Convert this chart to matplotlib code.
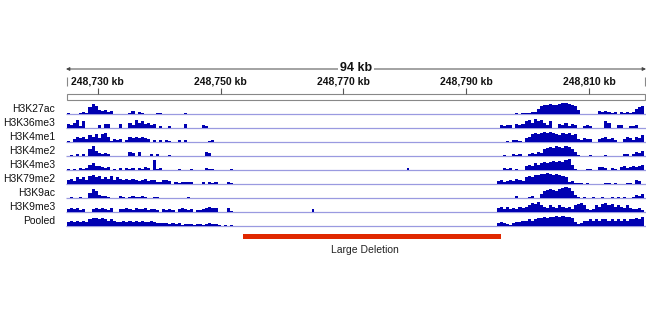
import matplotlib
matplotlib.use("Agg")
import matplotlib.pyplot as plt
from matplotlib.patches import Rectangle
import numpy as np

plt.rcParams['font.family'] = ['Liberation Sans', 'DejaVu Sans']

# genomic window (kb)
VIEW_START = 248724.84
VIEW_END = 248819.28
TICKS_KB = [248730, 248750, 248770, 248790, 248810]
TICK_LABELS = ["248,730 kb", "248,750 kb", "248,770 kb", "248,790 kb", "248,810 kb"]
SPAN_LABEL = "94 kb"

TRACKS = ["H3K27ac", "H3K36me3", "H3K4me1", "H3K4me2", "H3K4me3",
          "H3K79me2", "H3K9ac", "H3K9me3", "Pooled"]

# coverage in 0.5 kb bins, left flank starts at 248,725 kb, right flank at 248,795 kb
BIN_KB = 0.5
LEFT_START = 248725.0
RIGHT_START = 248795.0

left_h3k27ac = [1,0,0,0,1,2,1,6,9,7, 4,3,4,2,3,0,0,0,0,0, 1,3,0,2,1,0,0,0,0,1,
                1,0,0,0,0,0,0,0,1,0, 0,0,0,0,0,0,0,0,0,0, 0,0,0,0,0,0]
left_h3k36me3 = [4,3,5,7,2,6,0,0,0,0, 3,0,4,4,0,0,0,4,0,0, 5,3,7,5,6,4,5,3,4,0,
                 2,0,0,2,0,0,0,0,4,0, 0,0,0,0,3,2,0,0,0,0, 0,0,0,0,0,0]
left_h3k4me1 = [1,0,3,5,4,5,3,6,5,7, 4,7,8,5,1,3,2,3,0,2, 5,4,5,4,5,4,3,0,2,0,
                2,0,2,1,0,0,2,0,2,0, 0,0,0,0,0,0,1,2,0,0, 0,0,0,0,0,0]
left_h3k4me2 = [0,1,0,2,0,2,0,6,9,5, 3,2,3,2,0,0,0,0,0,0, 4,3,0,4,0,0,0,2,0,2,
                0,0,0,1,0,0,0,0,0,0, 0,0,0,0,0,4,3,0,0,0, 0,0,0,0,0,0]
left_h3k4me3 = [1,0,1,0,2,1,2,5,6,4, 4,3,2,3,0,1,0,2,0,2, 1,2,0,2,1,3,2,0,9,1,
                2,0,0,0,0,0,1,0,0,0, 1,0,0,0,0,2,1,1,0,0, 0,0,0,1,0,0]
left_h3k79me2 = [4,5,3,6,5,6,4,7,8,6, 7,5,6,5,7,4,6,5,4,5, 4,5,4,3,4,5,3,4,4,2,
                 2,4,4,3,0,2,1,2,2,2, 2,0,0,0,2,0,2,1,2,0, 0,0,2,1,0,0]
left_h3k9ac = [0,1,0,0,1,0,0,5,8,6, 3,2,2,1,0,0,0,2,1,0, 1,2,1,1,2,1,0,0,1,1,
               0,0,0,0,0,0,0,0,0,1, 0,0,0,0,0,0,0,0,0,0, 0,0,0,0,0,0]
left_h3k9me3 = [3,4,3,4,2,3,0,0,3,4, 3,4,3,2,4,0,0,3,3,4, 3,2,4,3,3,4,2,3,3,2,
                0,3,2,3,2,0,3,4,3,2, 3,0,2,2,3,4,5,4,4,0, 0,0,4,1,0,0]
left_pooled = [4,5,4,5,4,5,4,6,7,7, 6,7,6,5,6,5,4,4,5,4, 5,4,5,4,5,4,4,5,4,3,
               3,3,3,2,3,2,3,1,2,2, 2,1,2,2,1,2,3,2,2,1, 0,1,0,1,0,0]

right_h3k27ac = [0,0,0,0,0,0,1,0,1,1, 1,2,2,5,7,8,8,9,8,8, 9,10,10,9,8,7,4,0,0,0,
                 0,0,0,3,2,3,2,1,2,0, 2,1,2,1,2,5,6,7]
right_h3k36me3 = [0,3,2,3,3,0,4,3,4,6, 7,5,8,6,7,5,3,6,0,0, 4,3,5,2,4,3,0,0,2,3,
                  2,0,0,0,0,6,5,0,0,3, 3,0,0,2,2,3,0,0]
right_h3k4me1 = [0,0,0,1,0,2,2,1,0,4, 5,7,8,7,8,9,8,9,8,7, 6,8,7,8,6,7,3,2,4,3,
                 3,0,0,3,4,5,3,4,2,0, 0,3,5,4,2,5,4,6]
right_h3k4me2 = [0,0,1,0,0,2,1,2,0,0, 2,3,2,4,3,6,7,8,7,9, 8,7,9,8,6,4,1,0,0,0,
                 1,0,0,0,0,1,0,0,0,0, 0,2,2,0,2,4,3,5]
right_h3k4me3 = [0,0,2,1,2,0,1,0,0,4, 5,4,6,5,6,7,6,7,8,7, 8,7,9,10,5,1,0,0,0,1,
                 1,0,0,3,3,2,0,2,1,0, 3,4,2,3,4,3,4,5]
right_h3k79me2 = [3,4,2,3,4,3,5,4,3,6, 7,6,8,8,9,9,10,9,8,9, 8,7,6,2,3,1,1,1,0,1,
                  0,0,0,0,0,1,1,0,1,0, 0,0,1,1,0,4,3,0]
right_h3k9ac = [0,0,0,0,0,0,2,0,0,0, 1,2,0,0,4,6,7,8,7,6, 8,9,10,9,6,3,1,0,1,0,
                0,1,0,0,1,0,0,1,0,1, 0,1,0,0,1,3,2,4]
right_h3k9me3 = [4,5,3,5,3,4,3,5,4,5, 6,8,7,9,6,5,4,6,5,4, 6,5,4,5,3,6,7,8,6,3,
                 2,3,6,5,7,8,6,7,5,6, 5,4,6,4,3,3,4,2]
right_pooled = [3,4,3,2,1,3,4,4,5,5, 6,5,6,7,7,8,7,8,8,9, 8,9,8,8,7,4,2,3,5,5,
                6,5,6,5,6,6,5,6,5,6, 5,6,5,6,6,7,6,8]

LEFT = [left_h3k27ac, left_h3k36me3, left_h3k4me1, left_h3k4me2, left_h3k4me3,
        left_h3k79me2, left_h3k9ac, left_h3k9me3, left_pooled]
RIGHT = [right_h3k27ac, right_h3k36me3, right_h3k4me1, right_h3k4me2, right_h3k4me3,
         right_h3k79me2, right_h3k9ac, right_h3k9me3, right_pooled]

# lone reads inside the deleted region: track -> (kb, height)
LONE_PEAKS = {"H3K4me3": [(248780.5, 2)], "H3K9me3": [(248765.0, 3)]}

DELETION = (248753.7, 248795.7)
DELETION_LABEL = "Large Deletion"

BLUE = "#0000B2"
LINE_BLUE = "#9A9AE0"
RED = "#E02800"

fig = plt.figure(figsize=(6.5, 3.2), dpi=100)
# axes spans x 66..646 px, y 40..262 px; y data is minus pixel row
ax = fig.add_axes([66/650, 1 - 262/320, 580/650, 222/320])
ax.set_xlim(VIEW_START, VIEW_END)
ax.set_ylim(-262, -40)
ax.axis("off")

scale = 1.1  # px per unit of coverage
for i, name in enumerate(TRACKS):
    base = -(114 + 14 * i)
    ax.hlines(base, VIEW_START, VIEW_END, color=LINE_BLUE, lw=0.9, zorder=1)
    left = np.array(LEFT[i], dtype=float)
    right = np.array(RIGHT[i], dtype=float)
    xl = LEFT_START + BIN_KB * np.arange(len(left))
    xr = RIGHT_START + BIN_KB * np.arange(len(right))
    ax.bar(xl, left * scale, width=BIN_KB * 1.02, bottom=base, align="edge",
           color=BLUE, linewidth=0, zorder=2)
    ax.bar(xr, right * scale, width=BIN_KB * 1.02, bottom=base, align="edge",
           color=BLUE, linewidth=0, zorder=2)
    for pos, h in LONE_PEAKS.get(name, []):
        ax.bar(pos, h * scale, width=0.3, bottom=base, color=BLUE, linewidth=0, zorder=2)
    ax.text(VIEW_START - 11 / 6.14, base + 5, name, ha="right", va="center",
            fontsize=7.5, color="#111111")

# ruler
mid = (VIEW_START + VIEW_END) / 2
ax.annotate("", xy=(VIEW_START, -69), xytext=(VIEW_END, -69),
            arrowprops=dict(arrowstyle="<|-|>", color="#444444", lw=0.7,
                            mutation_scale=5, shrinkA=0, shrinkB=0))
ax.text(mid, -68, SPAN_LABEL, ha="center", va="center", fontsize=9,
        fontweight="bold", color="#111111",
        bbox=dict(facecolor="white", edgecolor="none", pad=1.5))
for t, lab in zip(TICKS_KB, TICK_LABELS):
    ax.text(t, -82, lab, ha="center", va="center", fontsize=7.5,
            fontweight="bold", color="#111111")
    ax.vlines(t, -94, -88, color="#555555", lw=0.8)
ax.vlines([VIEW_START + 0.1, VIEW_END - 0.1], -86, -77, color="#888888", lw=0.8)
ax.add_patch(Rectangle((VIEW_START + 0.1, -99.5), VIEW_END - VIEW_START - 0.2, 5.5,
                       facecolor="white", edgecolor="#888888", lw=0.8))

# deletion
ax.add_patch(Rectangle((DELETION[0], -239), DELETION[1] - DELETION[0], 5.5,
                       facecolor=RED, edgecolor="none"))
ax.text(248773.5, -250, DELETION_LABEL, ha="center", va="center",
        fontsize=7.5, color="#222222")

fig.savefig("out.png", dpi=100)
